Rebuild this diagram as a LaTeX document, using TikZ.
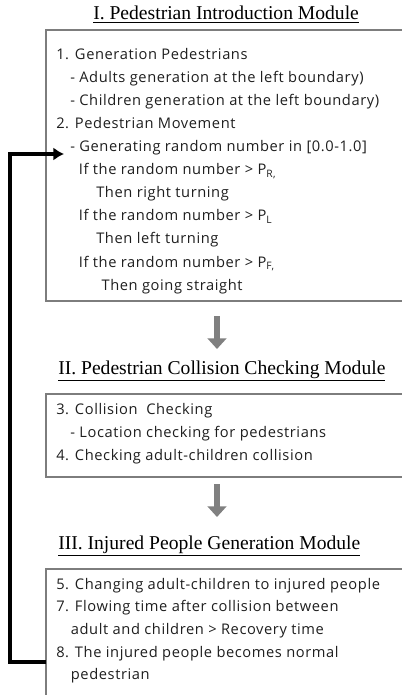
\documentclass[tikz,border=0pt]{standalone}
\usepackage{fontspec}
\setmainfont[LetterSpace = 4]{Open Sans}
\newfontfamily\titlefont{Liberation Serif}
\usetikzlibrary{arrows.meta}

\definecolor{boxgray}{RGB}{125,125,125}
\definecolor{arrowgray}{RGB}{128,128,128}
\definecolor{textgray}{RGB}{30,30,30}

\tikzset{
	module/.style = {draw = boxgray, line width = 0.8pt},
	caption/.style = {font = \titlefont\fontsize{14.7}{17}\selectfont, anchor = base west, inner sep = 0pt},
	steps/.style = {font = \fontsize{11}{17.3}\selectfont, text = textgray, align = left, anchor = north west, inner sep = 0pt},
	flow/.style = {draw = arrowgray, line width = 4.5pt, -{Triangle[length = 8pt, width = 14pt]}},
	feedback/.style = {line width = 2.4pt, -{Latex[length = 8pt, width = 10pt]}}
}

\begin{document}
				\begin{tikzpicture}[x = 0.75pt, y = -0.75pt]
					\useasboundingbox (0, 0) rectangle (401, 695);

					\coordinate (m1a) at (46, 30);
					\coordinate (m1b) at (410, 301);
					\coordinate (m2a) at (46, 394);
					\coordinate (m2b) at (410, 477);
					\coordinate (m3a) at (46, 569);
					\coordinate (m3b) at (410, 710);

					\coordinate (f1a) at (217, 316);
					\coordinate (f1b) at (217, 349);
					\coordinate (f2a) at (217, 484);
					\coordinate (f2b) at (217, 517);

					\coordinate (back) at (46, 662);
					\coordinate (corner) at (10, 662);
					\coordinate (tip) at (64, 154);

					\draw [module] (m1a) rectangle (m1b);
					\draw [module] (m2a) rectangle (m2b);
					\draw [module] (m3a) rectangle (m3b);

					\node [caption] (intro) at (93, 20) {\underline{I. Pedestrian Introduction Module}};
					\node [caption] (collision) at (58, 374) {\underline{II. Pedestrian Collision Checking Module}};
					\node [caption] (injured) at (58, 549) {\underline{III. Injured People Generation Module}};

					\node [steps] (movement) at (56, 48) {
						1. Generation Pedestrians\\
						\hspace*{10.5pt}- Adults generation at the left boundary)\\
						\hspace*{10.5pt}- Children generation at the left boundary)\\
						2. Pedestrian Movement\\
						\hspace*{10.5pt}- Generating random number in [0.0-1.0]\\
						\hspace*{17pt}If the random number > P\textsubscript{R,}\\
						\hspace*{30pt}Then right turning\\
						\hspace*{17pt}If the random number > P\textsubscript{L}\\
						\hspace*{30pt}Then left turning\\
						\hspace*{17pt}If the random number > P\textsubscript{F,}\\
						\hspace*{34pt}Then going straight};

					\node [steps] (checking) at (56, 403) {
						3. Collision\ \ Checking\\
						\hspace*{10.5pt}- Location checking for pedestrians\\
						4. Checking adult-children collision};

					\node [steps, font = \fontsize{11}{16.9}\selectfont] (recovery) at (56, 578) {
						5. Changing adult-children to injured people\\
						7. Flowing time after collision between\\
						\hspace*{11pt}adult and children > Recovery time\\
						8. The injured people becomes normal\\
						\hspace*{11pt}pedestrian};

					\draw [flow] (f1a) -- (f1b);
					\draw [flow] (f2a) -- (f2b);

					\draw [feedback] (back) -- (corner) |- (tip);
				\end{tikzpicture}
\end{document}
